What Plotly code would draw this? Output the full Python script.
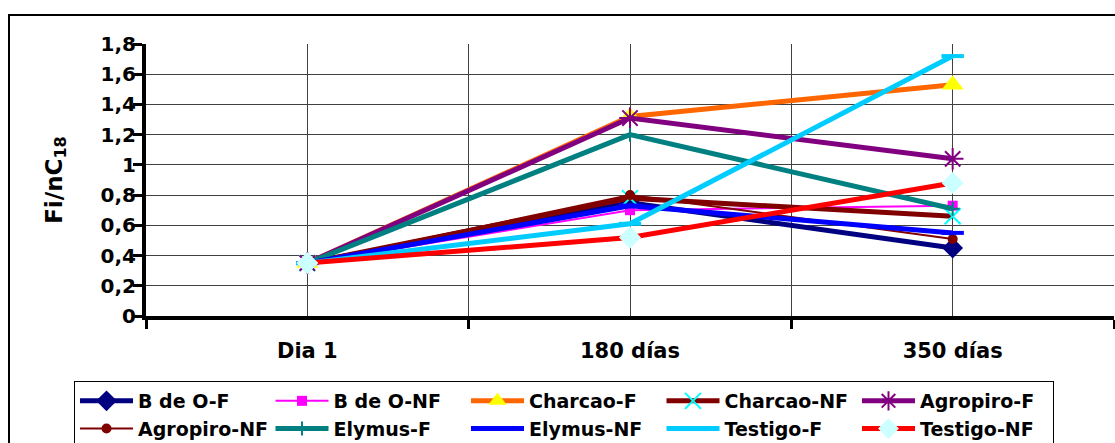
import plotly.graph_objects as go

# Sampling times and Fi/nC18 ratios per treatment
dias = ["Dia 1", "180 días", "350 días"]
x_pos = [0, 1, 2]

b_de_o_f = [0.35, 0.75, 0.45]
b_de_o_nf = [0.35, 0.70, 0.73]
charcao_f = [0.35, 1.32, 1.53]
charcao_nf = [0.35, 0.78, 0.66]
agropiro_f = [0.35, 1.31, 1.04]
agropiro_nf = [0.35, 0.80, 0.51]
elymus_f = [0.35, 1.20, 0.71]
elymus_nf = [0.35, 0.73, 0.55]
testigo_f = [0.35, 0.61, 1.72]
testigo_nf = [0.35, 0.52, 0.88]

y_ticks = [0, 0.2, 0.4, 0.6, 0.8, 1, 1.2, 1.4, 1.6, 1.8]

series = [
    ("B de O-F", b_de_o_f, "#000080", 5, dict(symbol="diamond", size=16, color="#000080")),
    ("B de O-NF", b_de_o_nf, "#FF00FF", 2, dict(symbol="square", size=10, color="#FF00FF")),
    ("Charcao-F", charcao_f, "#FF6600", 5, dict(symbol="triangle-up", size=19, color="#FFFF00")),
    ("Charcao-NF", charcao_nf, "#800000", 5,
     dict(symbol="x-thin-open", size=16, color="#00FFFF", line=dict(width=2, color="#00FFFF"))),
    ("Agropiro-F", agropiro_f, "#800080", 5,
     dict(symbol="asterisk-open", size=18, color="#800080", line=dict(width=2, color="#800080"))),
    ("Agropiro-NF", agropiro_nf, "#800000", 2, dict(symbol="circle", size=10, color="#800000")),
    ("Elymus-F", elymus_f, "#008080", 5,
     dict(symbol="cross-thin-open", size=10, color="#008080", line=dict(width=2, color="#008080"))),
    ("Elymus-NF", elymus_nf, "#0000FF", 5,
     dict(symbol="line-ew-open", size=16, color="#0000FF", line=dict(width=4, color="#0000FF"))),
    ("Testigo-F", testigo_f, "#00CCFF", 5,
     dict(symbol="line-ew-open", size=16, color="#00CCFF", line=dict(width=4, color="#00CCFF"))),
    ("Testigo-NF", testigo_nf, "#FF0000", 5, dict(symbol="diamond", size=17, color="#CCFFFF")),
]

fig = go.Figure()
for name, vals, color, width, marker in series:
    fig.add_trace(go.Scatter(
        x=x_pos, y=vals, name=name, mode="lines+markers",
        line=dict(color=color, width=width), marker=marker,
    ))

W, H = 1115, 443
L, R, T, B = 146, 1, 44, 127
pw, ph = W - L - R, H - T - B

def px_x(px):
    return (px - L) / pw

def px_y(py):
    return (H - B - py) / ph

font_main = "DejaVu Sans"

fig.update_layout(
    width=W, height=H,
    margin=dict(l=L, r=R, t=T, b=B, pad=0, autoexpand=False),
    paper_bgcolor="white", plot_bgcolor="white",
    separators=",.",
    font=dict(family=font_main, size=18, color="black"),
    showlegend=True,
    legend=dict(
        orientation="h",
        x=px_x(74), y=px_y(381), xanchor="left", yanchor="top",
        bordercolor="black", borderwidth=1, bgcolor="white",
        font=dict(family=font_main, size=19, color="black", weight="bold"),
        itemwidth=53, entrywidth=127.5, entrywidthmode="pixels",
        traceorder="normal", tracegroupgap=0,
    ),
    xaxis=dict(
        range=[-0.5, 2.5], tickmode="array", tickvals=x_pos, ticktext=dias,
        showgrid=True, gridcolor="#404040", gridwidth=1,
        ticks="", zeroline=False,
        showline=True, linecolor="black", linewidth=4,
        tickfont=dict(family=font_main, size=21, color="black", weight="bold"),
        ticklabelstandoff=13,
        minor=dict(tick0=-0.5, dtick=1, ticks="outside", ticklen=9, tickwidth=3,
                   tickcolor="black", showgrid=True, gridcolor="#404040", gridwidth=1),
    ),
    yaxis=dict(
        range=[0, 1.8], tickmode="array", tickvals=y_ticks,
        showgrid=True, gridcolor="#404040", gridwidth=1, zeroline=False,
        showline=True, linecolor="black", linewidth=4,
        ticks="outside", ticklen=9, tickwidth=3, tickcolor="black",
        tickfont=dict(family=font_main, size=20, color="black", weight="bold"),
        ticklabelstandoff=-7,
        title=dict(text="Fi/nC<sub>18</sub>", standoff=33,
                   font=dict(family=font_main, size=23, color="black", weight="bold")),
    ),
    shapes=[
        dict(type="rect", xref="paper", yref="paper",
             x0=px_x(9), x1=px_x(1125), y0=px_y(460), y1=px_y(15),
             line=dict(color="black", width=2), layer="below"),
    ],
)

fig.write_html("out.html")
